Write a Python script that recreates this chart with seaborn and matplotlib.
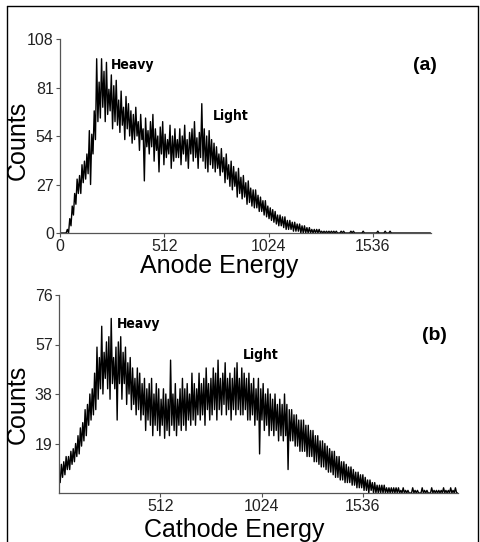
#%% import tools and libraries
import matplotlib
matplotlib.use('Agg')
import matplotlib.pyplot as plt
import seaborn as sns
import pandas as pd
import numpy as np
from matplotlib.lines import Line2D

#%% data
# upper / lower edge of the noisy trace in bins of 12 channels
step = 12

anode_hi = [
    0, 0, 0, 2, 8, 15, 22, 30, 32, 38, 40, 44, 57, 55, 68, 97,
    84, 97, 90, 95, 80, 88, 82, 85, 74, 79, 70, 76, 72, 68, 66, 70,
    62, 66, 58, 64, 57, 62, 66, 58, 54, 59, 62, 55, 52, 60, 54, 58,
    52, 58, 54, 60, 52, 56, 58, 62, 53, 56, 72, 58, 54, 57, 52, 50,
    48, 44, 47, 42, 44, 38, 40, 37, 34, 36, 31, 32, 28, 29, 25, 24,
    24, 21, 20, 18, 18, 15, 14, 13, 12, 10, 10, 9, 9, 7, 7, 6,
    6, 5, 5, 4, 4, 3, 3, 2, 2, 2, 2, 1, 1, 1, 1, 1,
    1, 1, 0, 1, 1, 0, 0, 1, 1, 0, 0, 0, 1, 0, 0, 0,
    0, 0, 1, 0, 0, 1, 0, 1, 0, 0, 0, 0, 0, 0, 0, 0,
    0, 0, 0, 0, 0, 0, 0, 0,
]
anode_lo = [
    0, 0, 0, 0, 4, 10, 16, 22, 22, 28, 30, 33, 27, 44, 52, 62,
    64, 70, 62, 66, 68, 58, 62, 60, 56, 60, 52, 58, 54, 50, 52, 54,
    46, 52, 29, 48, 44, 48, 40, 46, 34, 44, 38, 42, 44, 36, 40, 42,
    42, 38, 44, 40, 36, 44, 40, 42, 36, 42, 40, 36, 34, 38, 36, 34,
    36, 32, 34, 28, 30, 26, 24, 26, 20, 22, 19, 20, 16, 17, 15, 14,
    14, 12, 12, 10, 9, 8, 7, 6, 5, 4, 4, 3, 2, 2, 2, 1,
    1, 1, 0, 0, 0, 0, 0, 0, 0, 0, 0, 0, 0, 0, 0, 0,
    0, 0, 0, 0, 0, 0, 0, 0, 0, 0, 0, 0, 0, 0, 0, 0,
    0, 0, 0, 0, 0, 0, 0, 0, 0, 0, 0, 0, 0, 0, 0, 0,
    0, 0, 0, 0, 0, 0, 0, 0,
]

cathode_hi = [
    8, 11, 12, 14, 14, 16, 17, 19, 22, 25, 27, 32, 34, 38, 40, 46,
    56, 52, 64, 54, 58, 60, 67, 52, 56, 58, 60, 54, 56, 50, 52, 48,
    44, 48, 46, 42, 44, 40, 42, 44, 38, 42, 40, 36, 40, 38, 36, 51,
    38, 42, 36, 40, 44, 40, 42, 38, 46, 42, 40, 46, 42, 44, 48, 42,
    44, 48, 46, 51, 44, 46, 50, 44, 46, 44, 48, 50, 44, 48, 46, 44,
    46, 42, 44, 40, 44, 40, 42, 38, 40, 38, 36, 38, 34, 36, 34, 38,
    34, 32, 32, 30, 30, 28, 28, 28, 26, 26, 24, 24, 22, 22, 20, 20,
    19, 18, 17, 16, 16, 14, 14, 12, 12, 11, 10, 10, 9, 8, 8, 7,
    7, 6, 5, 5, 4, 4, 3, 3, 3, 3, 2, 2, 2, 2, 2, 2,
    1, 2, 1, 1, 0, 2, 1, 1, 0, 2, 1, 1, 0, 2, 1, 1,
    1, 1, 2, 1, 1, 2, 1, 2, 0,
]
cathode_lo = [
    4, 6, 7, 9, 9, 11, 12, 14, 15, 18, 20, 22, 26, 28, 30, 32,
    36, 40, 38, 44, 40, 36, 42, 40, 28, 42, 36, 42, 34, 38, 32, 34,
    30, 32, 28, 30, 24, 28, 26, 22, 26, 24, 22, 26, 21, 24, 22, 26,
    24, 22, 26, 24, 26, 24, 28, 26, 28, 26, 30, 28, 30, 26, 32, 28,
    30, 32, 28, 32, 30, 34, 30, 32, 28, 32, 30, 32, 30, 30, 32, 28,
    28, 30, 26, 28, 15, 28, 24, 26, 22, 24, 22, 24, 20, 22, 20, 22,
    9, 20, 20, 18, 18, 16, 16, 16, 14, 14, 14, 12, 12, 11, 10, 10,
    9, 8, 8, 7, 6, 6, 5, 5, 4, 4, 4, 3, 3, 2, 2, 2,
    1, 1, 0, 1, 0, 0, 0, 0, 0, 0, 0, 0, 0, 0, 0, 0,
    0, 0, 0, 0, 0, 0, 0, 0, 0, 0, 0, 0, 0, 0, 0, 0,
    0, 0, 0, 0, 0, 0, 0, 0, 0,
]

energy_ticks = [0, 512, 1024, 1536]
anode_yticks = [0, 27, 54, 81, 108]
cathode_yticks = [19, 38, 57, 76]


def trace(hi, lo):
    # the trace jumps between the upper edge and the lower edge of each bin
    ch = np.arange(len(hi)) * step
    x = np.column_stack([ch, ch + step / 2]).ravel()
    y = np.column_stack([hi, lo]).ravel()
    return pd.DataFrame({'channel': x, 'counts': y})


df_a = trace(anode_hi, anode_lo)
df_b = trace(cathode_hi, cathode_lo)

#%% figure
sns.set_style('ticks')
plt.rcParams['font.family'] = ['Liberation Sans', 'DejaVu Sans']
narrow = ['DejaVu Sans Condensed', 'Liberation Sans Narrow', 'DejaVu Sans']

fig = plt.figure(figsize=(4.8, 5.42), dpi=100)
W, H = 480, 542


def px_axes(l, t, r, b):
    return fig.add_axes([l / W, 1 - b / H, (r - l) / W, (b - t) / H])


ax_a = px_axes(60, 39, 431, 233)
ax_b = px_axes(59, 295, 458, 493)

sns.lineplot(data=df_a, x='channel', y='counts', ax=ax_a, color='black', lw=1.0, sort=False)
sns.lineplot(data=df_b, x='channel', y='counts', ax=ax_b, color='black', lw=1.0, sort=False)

ax_a.set_xlim(0, 1821)
ax_a.set_ylim(0, 108)
ax_a.set_xticks(energy_ticks)
ax_a.set_yticks(anode_yticks)

ax_b.set_xlim(0, 2017)
ax_b.set_ylim(0, 76)
ax_b.set_xticks(energy_ticks[1:])
ax_b.set_yticks(cathode_yticks)

for ax in [ax_a, ax_b]:
    ax.set_xlabel('')
    ax.set_ylabel('')
    sns.despine(ax=ax)
    for s in ['left', 'bottom']:
        ax.spines[s].set_color('#555555')
        ax.spines[s].set_linewidth(0.9)
    ax.tick_params(direction='out', length=3, width=0.8, color='#555555',
                   labelsize=11.5, labelcolor='#222222', pad=1.5)

# axis titles
fig.text(18 / W, 1 - 140 / H, 'Counts', rotation=90, ha='center', va='center', fontsize=18, color='black')
fig.text(18 / W, 1 - 404 / H, 'Counts', rotation=90, ha='center', va='center', fontsize=18, color='black')
fig.text(219 / W, 1 - 273 / H, 'Anode Energy', ha='center', va='baseline', fontsize=18, color='black')
fig.text(234 / W, 1 - 537 / H, 'Cathode Energy', ha='center', va='baseline', fontsize=18, color='black')

# peak labels
peak_style = dict(ha='left', va='center', fontsize=10, fontweight='bold',
                  fontstretch='condensed', family=narrow, color='black')
fig.text(111 / W, 1 - 65 / H, 'Heavy', **peak_style)
fig.text(213 / W, 1 - 116 / H, 'Light', **peak_style)
fig.text(117 / W, 1 - 324 / H, 'Heavy', **peak_style)
fig.text(243 / W, 1 - 355 / H, 'Light', **peak_style)

fig.text(425 / W, 1 - 65 / H, '(a)', ha='center', va='center', fontsize=14, fontweight='bold', color='black')
fig.text(434 / W, 1 - 335 / H, '(b)', ha='center', va='center', fontsize=14, fontweight='bold', color='black')

# border around the figure (bottom edge is cut off)
fig.add_artist(Line2D([6.5 / W, 6.5 / W], [0, 1 - 6 / H], color='black', lw=1))
fig.add_artist(Line2D([6.5 / W, 478 / W], [1 - 6 / H, 1 - 6 / H], color='black', lw=1))
fig.add_artist(Line2D([478 / W, 478 / W], [0, 1 - 6 / H], color='black', lw=1))

fig.savefig('out.png', dpi=100)
